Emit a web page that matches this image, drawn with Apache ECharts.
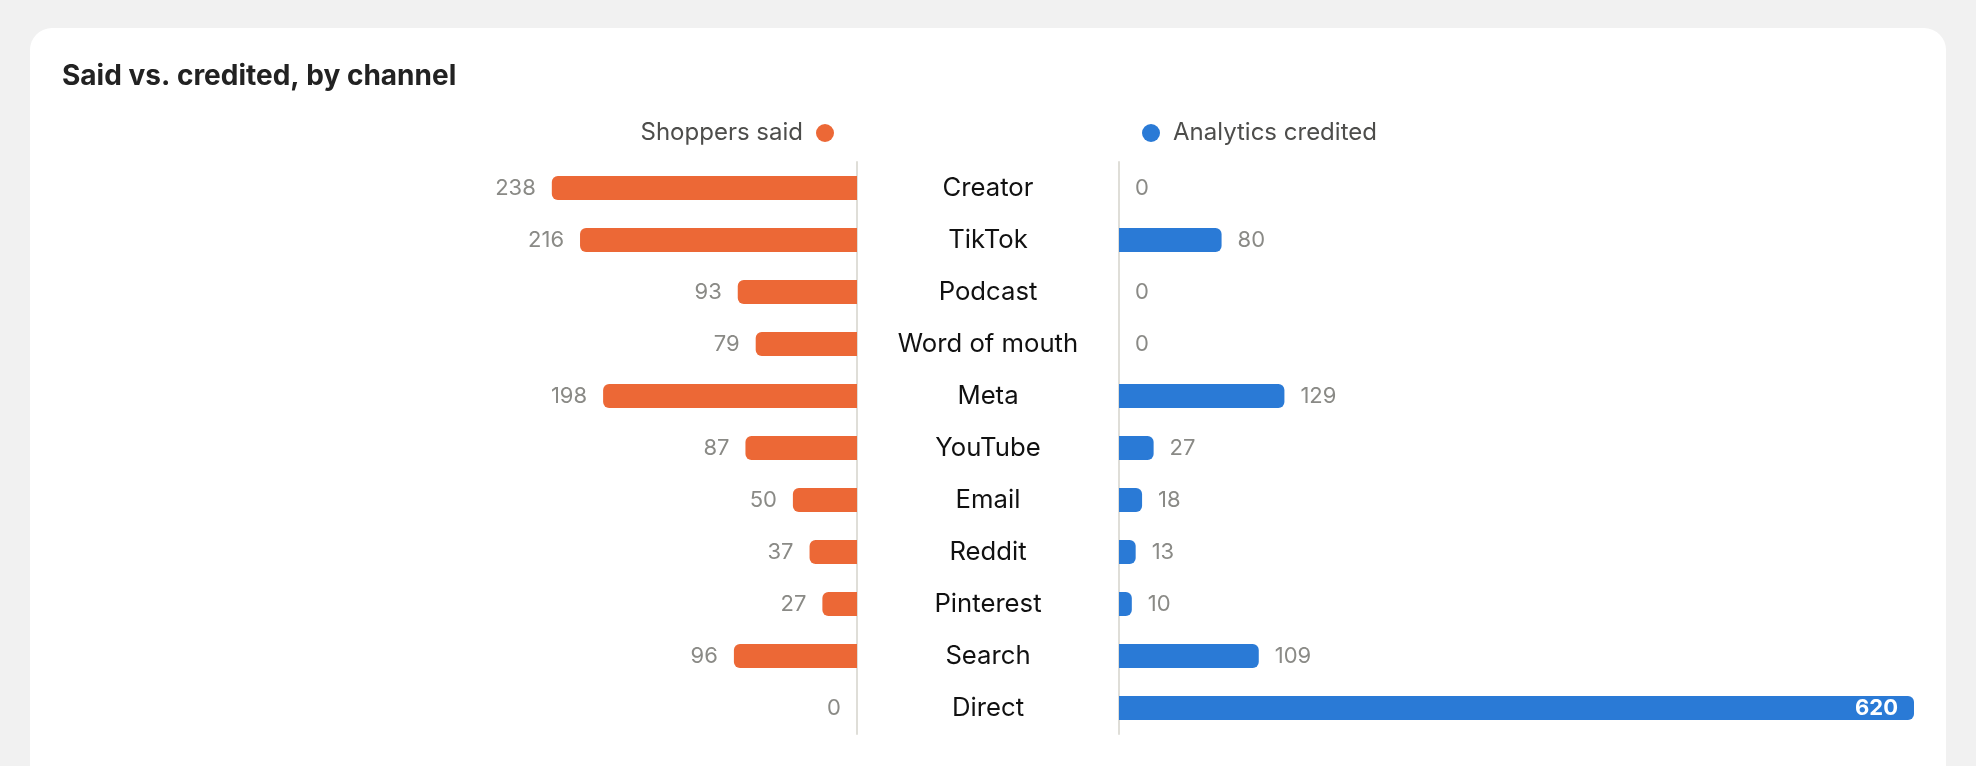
<!DOCTYPE html>
<html>
<head>
<meta charset="utf-8">
<script src="https://cdn.jsdelivr.net/npm/echarts@6/dist/echarts.min.js"></script>
<style>
  html, body { margin: 0; padding: 0; background: #f1f1f1; overflow: hidden; }
  #card { position: absolute; left: 30px; top: 28px; width: 1916px; height: 800px; background: #fff; border-radius: 22px; }
  #chart { position: absolute; left: 0; top: 0; width: 1976px; height: 766px; }
</style>
</head>
<body>
<div id="card"></div>
<div id="chart"></div>
<script>
// channels, top to bottom
const channels = ['Creator', 'TikTok', 'Podcast', 'Word of mouth', 'Meta', 'YouTube', 'Email', 'Reddit', 'Pinterest', 'Search', 'Direct']
const shoppersSaid = [238, 216, 93, 79, 198, 87, 50, 37, 27, 96, 0]
const analyticsCredited = [0, 80, 0, 0, 129, 27, 18, 13, 10, 109, 620]
const axisMax = 620

const FONT = 'Inter, "Noto Sans", sans-serif'
const ORANGE = '#ec6836'
const BLUE = '#2a7ad6'
const LINE = '#dfded8'

const valueLabel = {
  show: true,
  distance: 16,
  fontFamily: FONT,
  fontSize: 22,
  color: '#8a8a86'
}

// the biggest bar gets its label inside, in white
function toItems(values) {
  const top = Math.max.apply(null, values)
  return values.map(function (v) {
    if (v === top && v >= axisMax * 0.9) {
      return { value: v, label: { position: 'insideRight', color: '#fff', fontWeight: 'bold' } }
    }
    return v
  })
}

const chart = echarts.init(document.getElementById('chart'))

const option = {
  animation: false,
  title: {
    text: 'Said vs. credited, by channel',
    left: 62,
    top: 63,
    padding: 0,
    textStyle: { fontFamily: FONT, fontSize: 28, fontWeight: 'bold', color: '#222' }
  },
  legend: [{
    data: ['Shoppers said'],
    right: 1142,
    top: 121,
    padding: 0,
    align: 'right',
    icon: 'circle',
    itemWidth: 18,
    itemHeight: 18,
    textStyle: { fontFamily: FONT, fontSize: 24, color: '#4d4d4b', padding: [0, 8, 0, 0] }
  }, {
    data: ['Analytics credited'],
    left: 1142,
    top: 121,
    padding: 0,
    icon: 'circle',
    itemWidth: 18,
    itemHeight: 18,
    textStyle: { fontFamily: FONT, fontSize: 24, color: '#4d4d4b', padding: [0, 0, 0, 8] }
  }],
  grid: [
    { left: 62, right: 1119, top: 162, bottom: 32 },
    { left: 1119, right: 62, top: 162, bottom: 32 }
  ],
  xAxis: [
    { gridIndex: 0, type: 'value', min: 0, max: axisMax, inverse: true, show: false },
    { gridIndex: 1, type: 'value', min: 0, max: axisMax, show: false }
  ],
  yAxis: [{
    gridIndex: 0,
    type: 'category',
    data: channels,
    inverse: true,
    position: 'right',
    axisLine: { show: true, lineStyle: { color: LINE, width: 2 } },
    axisTick: { show: false },
    axisLabel: {
      align: 'center',
      margin: 131,
      fontFamily: FONT,
      fontSize: 25.7,
      color: '#111'
    }
  }, {
    gridIndex: 1,
    type: 'category',
    data: channels,
    inverse: true,
    position: 'left',
    axisLine: { show: true, lineStyle: { color: LINE, width: 2 } },
    axisTick: { show: false },
    axisLabel: { show: false }
  }],
  series: [{
    name: 'Shoppers said',
    type: 'bar',
    xAxisIndex: 0,
    yAxisIndex: 0,
    barWidth: 24,
    itemStyle: { color: ORANGE, borderRadius: [6, 0, 0, 6] },
    label: Object.assign({ position: 'left' }, valueLabel),
    data: toItems(shoppersSaid)
  }, {
    name: 'Analytics credited',
    type: 'bar',
    xAxisIndex: 1,
    yAxisIndex: 1,
    barWidth: 24,
    itemStyle: { color: BLUE, borderRadius: [0, 6, 6, 0] },
    label: Object.assign({ position: 'right' }, valueLabel),
    data: toItems(analyticsCredited)
  }]
}

chart.setOption(option)
</script>
</body>
</html>
